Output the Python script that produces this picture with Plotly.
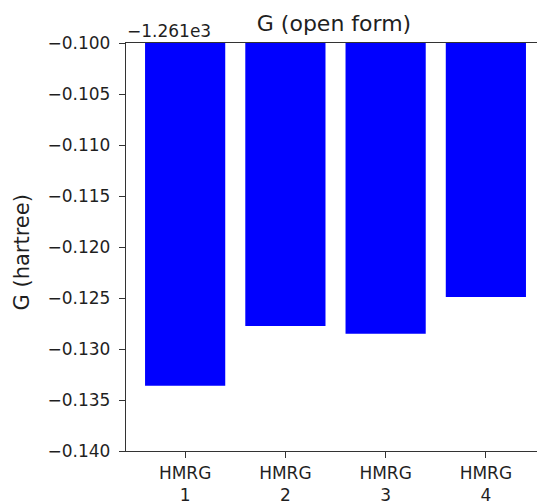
import plotly.graph_objects as go

# Data (values relative to offset of -1.261e3 hartree)
categories = ["HMRG<br>1", "HMRG<br>2", "HMRG<br>3", "HMRG<br>4"]
positions = [1, 2, 3, 4]
g_values = [-0.1336, -0.12775, -0.1285, -0.1249]
offset_label = "\u22121.261e3"
y_ticks = [-0.140, -0.135, -0.130, -0.125, -0.120, -0.115, -0.110, -0.105, -0.100]

font_family = "DejaVu Sans"
text_color = "#1f1f1f"
tick_size = 17
label_size = 22

W, H = 537, 504
L, T, B = 126, 43, 53

fig = go.Figure(
    go.Bar(
        x=positions,
        y=g_values,
        width=0.8,
        marker=dict(color="#0000ff", line=dict(width=0)),
        showlegend=False,
    )
)

fig.update_layout(
    width=W,
    height=H,
    margin=dict(l=L, r=0, t=T, b=B),
    paper_bgcolor="white",
    plot_bgcolor="white",
    font=dict(family=font_family, size=tick_size, color=text_color),
    title=dict(
        text="G (open form)",
        x=334 / W,
        xanchor="center",
        y=1 - 23 / H,
        yanchor="middle",
        font=dict(size=label_size, family=font_family, color=text_color),
    ),
)

fig.update_xaxes(
    range=[0.41, 4.51],
    tickvals=positions,
    ticktext=categories,
    showline=True,
    linecolor="#333333",
    linewidth=1.3,
    mirror=True,
    ticks="outside",
    ticklen=6,
    tickwidth=1.2,
    tickcolor="#333333",
    showgrid=False,
    zeroline=False,
    tickfont=dict(size=tick_size, family=font_family, color=text_color),
)

fig.update_yaxes(
    range=[-0.140, -0.100],
    tickvals=y_ticks,
    tickformat=".3f",
    showline=True,
    linecolor="#333333",
    linewidth=1.3,
    ticks="outside",
    ticklen=6,
    tickwidth=1.2,
    tickcolor="#333333",
    showgrid=False,
    zeroline=False,
    ticklabelstandoff=5,
    tickfont=dict(size=tick_size, family=font_family, color=text_color),
)

# y-axis label
fig.add_annotation(
    text="G (hartree)",
    xref="paper",
    yref="paper",
    x=0,
    y=1 - (252.5 - T) / (H - T - B),
    xanchor="center",
    yanchor="middle",
    xshift=22 - L,
    textangle=-90,
    showarrow=False,
    font=dict(size=21, family=font_family, color=text_color),
)

# offset text
fig.add_annotation(
    text=offset_label,
    xref="paper",
    yref="paper",
    x=0,
    y=1,
    xanchor="left",
    yanchor="bottom",
    showarrow=False,
    xshift=-1,
    yshift=0,
    font=dict(size=tick_size, family=font_family, color=text_color),
)

fig.write_html("out.html")
